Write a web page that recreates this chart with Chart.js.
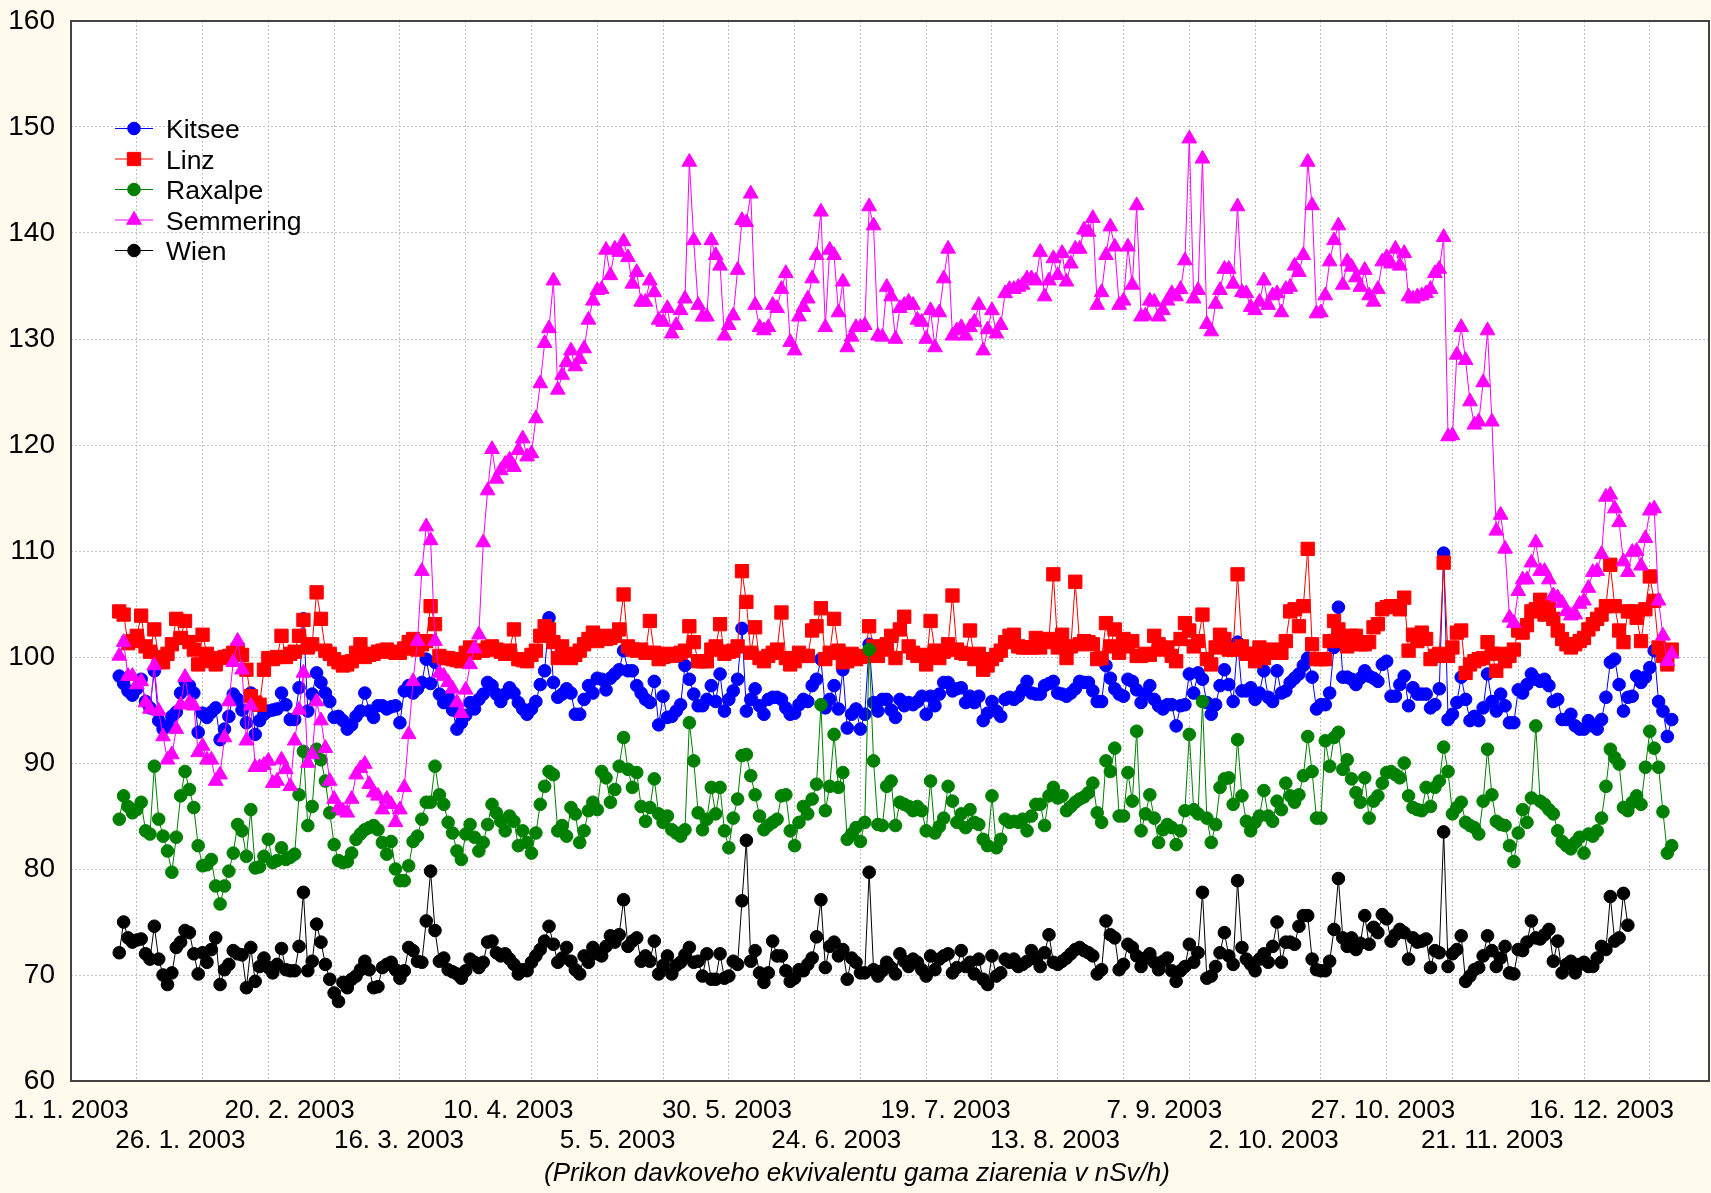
<!DOCTYPE html>
<html><head><meta charset="utf-8">
<script src="https://cdn.jsdelivr.net/npm/chart.js@4.4.1/dist/chart.umd.min.js"></script>
<style>
html,body{margin:0;padding:0;background:#FFFAEE;}
canvas{display:block;}
</style></head><body>
<canvas id="c" width="1711" height="1193"></canvas>
<script>
// first day of data (days after 1. 1. 2003), one value per day
const startDay = 11;

const kitsee = [98.2,97.5,96.8,96.4,97.0,97.9,95.8,95.2,98.7,94.0,
93.2,93.5,94.4,94.8,96.6,97.7,97.3,96.6,92.9,94.7,
94.3,94.8,95.2,92.2,93.2,94.4,96.5,96.0,95.0,93.8,
96.6,92.7,94.0,94.6,94.9,95.0,95.1,96.6,95.5,94.1,
94.1,97.1,103.6,94.9,96.5,98.5,97.6,96.6,95.8,94.3,
94.4,94.0,93.2,93.6,94.4,94.9,96.6,94.9,94.3,95.4,
95.4,95.1,95.3,95.4,93.8,96.8,97.3,96.6,97.0,97.6,
99.8,97.5,99.5,96.5,95.7,96.2,95.0,93.2,93.8,94.5,
95.7,95.1,96.0,96.5,97.6,97.3,96.5,95.8,96.5,97.1,
96.6,95.7,95.1,94.6,95.1,95.8,97.4,98.7,103.7,97.6,
96.2,96.5,97.0,96.6,94.6,94.6,96.0,97.3,96.6,98.0,
97.9,96.9,98.0,98.4,98.8,100.6,98.7,98.7,97.3,96.6,
96.0,95.7,97.7,93.6,96.3,94.3,94.4,94.9,95.5,99.2,
97.9,96.5,95.4,95.4,96.0,97.3,95.8,98.4,94.9,96.0,
96.8,97.9,102.7,94.9,96.0,97.0,95.4,94.6,96.0,96.2,
96.2,96.0,95.2,94.6,94.7,95.5,96.0,95.8,97.3,97.9,
99.8,95.2,96.0,97.3,95.1,98.8,93.3,94.6,95.1,93.2,
94.6,101.2,95.7,94.9,96.0,96.0,95.0,94.3,96.0,95.4,
95.7,95.5,95.8,96.3,94.6,96.3,95.4,96.5,97.6,97.6,
96.8,97.0,97.1,95.7,96.3,95.7,96.3,94.0,94.7,95.8,
94.9,94.4,96.0,96.2,96.0,96.3,96.9,97.7,96.6,96.5,
96.5,97.3,97.5,97.7,96.6,96.5,96.3,96.6,97.0,97.7,
97.6,97.6,96.8,95.8,95.8,99.2,98.0,97.0,96.5,96.3,
97.9,97.7,96.9,95.7,96.5,97.3,96.0,95.4,95.1,95.5,
95.5,93.5,95.4,95.5,98.4,96.6,98.5,97.9,95.7,94.6,
95.5,97.3,98.8,97.4,95.8,101.4,96.8,96.8,97.1,96.0,
96.6,98.7,96.2,95.8,98.7,96.6,96.8,97.6,98.0,98.4,
99.2,99.9,98.1,95.1,95.5,95.5,96.6,100.9,104.7,98.1,
98.1,97.9,97.4,98.0,98.7,98.2,98.0,97.7,99.3,99.6,
96.3,96.3,97.4,98.2,95.4,97.1,96.5,96.5,96.5,95.2,
95.5,97.0,109.8,94.1,94.6,95.7,98.1,96.0,94.0,94.4,
94.0,95.2,98.4,95.8,94.9,96.5,95.4,93.8,93.8,96.9,
96.6,97.4,98.4,97.9,97.7,97.9,97.3,95.8,96.0,94.1,
94.1,94.6,93.5,93.2,93.2,94.0,93.5,93.2,94.1,96.2,
99.5,99.8,97.4,94.9,96.2,96.3,98.2,97.6,98.1,99.0,
100.6,95.8,94.9,92.5,94.1];

const linz = [104.3,104.0,101.3,101.5,102.0,103.9,101.0,100.5,102.6,100.0,
99.5,100.3,101.2,103.6,101.8,103.4,101.4,100.7,99.3,102.1,
100.3,99.6,99.3,99.9,100.0,100.1,100.4,100.7,100.2,98.8,
96.3,95.7,95.5,98.8,99.9,99.8,100.0,102.0,100.0,100.3,
100.5,102.0,103.5,100.9,101.2,106.1,103.6,100.6,100.3,99.8,
99.5,99.2,99.3,99.6,100.4,101.2,100.0,100.2,100.3,100.5,
100.6,100.7,100.5,100.4,100.4,100.8,101.4,101.7,100.7,101.2,
101.5,104.8,103.1,100.1,99.9,99.9,99.8,99.7,99.6,100.4,
100.9,100.4,100.6,100.6,100.9,101.0,100.7,100.5,100.3,100.6,
102.6,99.8,99.7,99.6,100.2,100.6,102.0,102.9,102.6,101.4,
99.9,101.0,100.3,99.9,100.2,100.6,101.2,101.7,102.3,101.5,
102.0,101.7,101.8,102.0,102.6,105.9,101.0,100.7,100.6,100.7,
100.4,103.4,100.4,99.8,100.0,100.3,100.1,100.2,100.4,100.6,
102.9,101.4,99.6,99.6,99.6,100.7,101.0,103.1,100.3,100.5,
100.6,101.0,108.1,105.2,100.4,102.8,99.9,99.6,100.1,100.4,
100.7,104.2,99.9,99.3,99.6,100.4,100.1,100.1,102.5,102.9,
104.6,99.8,100.4,103.6,100.6,99.5,99.6,100.3,99.8,100.0,
100.1,102.9,101.0,100.1,100.7,101.2,102.0,99.9,102.6,103.8,
101.0,100.4,100.1,100.2,99.3,103.4,100.6,99.9,100.5,101.2,
105.8,100.7,100.4,100.3,102.5,99.8,100.3,98.8,99.2,99.8,
100.2,100.6,101.4,102.0,102.1,101.0,100.9,100.9,100.9,101.8,
100.9,101.4,101.7,107.8,100.9,102.1,99.9,101.0,107.1,101.2,
101.5,101.4,101.2,99.8,99.9,103.2,101.0,102.6,100.4,101.7,
101.0,101.5,100.1,100.1,100.3,100.2,102.0,101.2,100.7,100.9,
100.1,99.6,101.7,103.2,102.5,101.0,101.5,104.0,99.8,99.3,
100.9,102.1,101.7,100.7,100.7,107.8,101.0,100.3,100.3,99.6,
100.9,99.9,100.4,100.7,100.4,100.4,101.5,104.3,104.5,102.9,
104.8,110.2,101.2,99.8,99.8,99.8,101.5,103.4,102.6,101.5,
101.0,102.0,102.0,101.2,101.2,101.4,102.8,103.1,104.5,104.7,
104.8,104.8,104.5,105.6,100.6,102.1,101.5,102.3,101.7,99.8,
100.1,100.3,108.9,100.1,100.9,102.3,102.5,98.5,99.3,99.6,
99.8,99.9,101.4,100.3,98.7,100.3,99.6,100.1,100.7,102.5,
102.3,103.0,104.3,104.5,105.4,104.0,104.7,103.6,102.5,101.7,
101.2,100.9,101.2,101.5,101.8,102.6,103.1,103.6,104.0,104.8,
108.7,104.8,102.5,101.4,104.3,104.3,103.7,101.5,104.5,107.6,
105.3,100.9,100.1,99.3,100.7];

const raxalpe = [84.7,86.9,85.9,85.3,85.6,86.3,83.6,83.3,89.7,84.7,
83.1,81.7,79.7,83.0,86.9,89.2,87.5,85.8,82.2,80.3,
80.4,80.9,78.4,76.7,78.4,79.8,81.5,84.2,83.6,81.2,
85.6,80.1,80.2,81.2,82.8,80.6,80.8,82.0,80.9,81.1,
81.4,87.0,91.1,84.1,85.9,91.3,90.3,88.3,85.3,82.3,
80.8,80.6,80.7,81.5,82.8,83.3,83.7,83.9,84.1,83.7,
82.5,81.4,82.6,80.0,78.9,78.9,80.3,82.6,83.1,84.7,
86.3,86.3,89.7,87.0,86.1,84.4,83.4,81.7,80.9,83.3,
84.2,83.0,81.7,82.5,84.2,86.1,85.3,84.5,83.6,85.0,
84.5,82.2,83.6,82.5,81.5,83.4,86.1,87.8,89.2,88.9,
83.6,84.1,83.1,85.8,85.2,82.5,83.6,85.5,86.3,85.6,
89.2,88.6,86.3,87.5,89.7,92.4,89.4,87.7,89.1,85.9,
84.5,85.8,88.5,85.2,84.4,85.0,83.7,83.4,83.1,83.7,
93.8,90.2,85.3,83.7,84.7,87.7,85.2,87.7,83.6,82.0,
84.8,86.6,90.7,90.8,88.8,87.0,85.0,83.7,84.1,84.4,
84.7,86.9,87.0,83.6,82.2,84.4,85.9,85.2,86.6,88.0,
95.5,85.5,87.8,92.7,87.7,89.1,82.8,83.3,83.9,82.6,
84.4,100.7,90.2,84.2,84.1,87.8,88.3,84.1,86.3,86.1,
85.9,85.5,85.9,85.5,83.6,88.3,83.4,84.0,84.8,87.8,
86.4,84.4,85.2,83.9,85.6,84.4,84.2,82.8,82.2,86.9,
82.0,82.8,84.7,84.4,84.5,84.4,84.7,83.6,85.0,86.1,
86.1,84.1,86.9,87.7,86.7,86.9,85.5,85.9,86.3,86.6,
86.8,87.2,88.1,85.3,84.4,90.2,89.2,91.4,85.0,85.0,
89.1,86.4,93.0,83.6,85.2,87.0,84.8,82.5,83.7,84.2,
83.9,82.3,83.6,85.5,92.7,85.6,85.2,95.8,84.8,82.5,
84.2,87.7,88.5,88.6,86.1,92.2,86.9,84.5,83.6,84.4,
85.0,87.4,85.0,84.5,86.4,85.6,88.1,86.9,86.3,87.0,
88.8,92.5,89.2,84.8,84.8,92.1,89.7,92.4,92.9,89.4,
90.3,88.5,87.2,86.3,88.6,84.8,86.4,86.9,88.1,89.1,
89.2,88.9,88.6,90.0,86.9,85.8,85.6,85.5,87.7,85.9,
87.7,88.3,91.5,89.2,85.2,85.8,86.3,84.4,84.1,83.9,
83.3,86.4,91.3,87.0,84.5,84.2,84.1,82.2,80.7,83.4,
85.6,84.4,86.7,93.5,86.4,86.1,85.6,85.2,83.6,82.6,
82.2,81.9,82.5,83.0,81.5,83.3,83.1,83.6,84.8,87.8,
91.3,90.5,89.9,85.8,85.5,86.3,86.9,86.1,89.6,93.0,
91.4,89.6,85.4,81.5,82.2];

const semmering = [100.1,101.4,98.2,98.2,97.4,97.7,95.7,95.1,99.2,94.9,
92.5,90.3,90.8,93.2,95.5,98.1,95.7,95.4,91.0,91.6,
90.3,90.3,88.3,88.9,92.4,95.8,99.5,101.5,98.8,92.1,
95.4,89.6,89.6,89.8,90.2,88.1,88.3,90.3,89.4,87.8,
92.1,95.0,98.5,90.0,90.8,95.8,94.0,91.4,88.3,86.6,
85.8,85.5,85.3,86.6,88.9,89.5,89.9,88.0,87.2,86.9,
85.6,86.6,86.1,84.4,85.6,87.7,92.7,97.7,101.5,108.1,
112.3,111.0,101.5,98.5,98.2,97.6,97.0,95.7,94.7,96.9,
99.3,100.8,102.1,110.8,115.7,119.6,116.8,117.6,118.2,118.6,
117.9,119.5,120.6,118.9,119.2,122.5,125.8,129.6,131.0,135.5,
125.2,126.6,127.8,128.9,127.4,128.1,129.1,131.8,133.6,134.6,
134.7,138.4,136.0,138.5,138.2,139.2,137.7,135.2,136.3,133.5,
133.5,135.5,134.4,131.8,131.6,132.9,130.5,131.3,132.7,133.8,
146.7,139.3,133.2,132.1,132.1,139.3,137.9,136.9,130.3,131.3,
132.2,136.5,141.2,141.0,143.7,133.2,131.1,130.8,131.1,133.2,
132.9,134.7,136.2,129.7,128.9,132.1,133.0,133.8,135.7,137.9,
142.0,131.1,138.4,137.9,132.5,135.4,129.2,130.2,131.1,131.1,
131.3,142.5,140.7,130.3,130.2,134.9,134.0,130.0,132.9,133.2,
133.5,133.2,131.8,131.6,130.0,132.7,129.2,132.5,135.7,138.5,
130.3,130.8,131.1,130.3,131.1,131.6,133.2,128.9,130.9,132.7,
130.5,131.3,134.3,134.7,134.7,134.9,135.1,135.7,135.7,135.5,
138.2,134.0,135.5,137.6,136.0,138.1,135.4,137.1,138.5,138.5,
140.3,140.1,141.4,133.2,134.4,137.9,140.6,138.7,133.2,133.6,
138.7,135.1,142.6,132.1,132.2,133.6,133.5,132.1,132.7,133.6,
134.3,134.0,134.7,137.4,148.9,133.8,134.6,147.0,131.4,130.7,
133.3,134.6,136.6,136.6,135.2,142.5,134.4,134.3,133.0,132.7,
133.5,135.5,133.2,134.1,134.3,132.5,134.7,134.9,136.9,136.3,
137.9,146.7,142.6,132.4,132.5,134.1,137.3,139.3,140.7,135.1,
137.3,136.8,135.8,134.9,136.5,134.1,133.5,134.7,137.3,137.7,
137.1,138.5,136.9,138.1,134.0,133.8,134.0,134.1,134.3,134.7,
136.2,136.6,139.6,120.8,120.9,128.5,131.1,128.0,124.1,121.9,
122.2,125.9,130.8,122.2,111.9,113.4,110.2,103.7,103.2,106.2,
107.3,107.3,108.9,110.8,108.1,108.1,107.3,105.8,105.6,105.1,
104.3,103.9,104.0,105.0,105.3,106.5,108.0,108.1,109.7,115.1,
115.3,114.0,112.7,109.0,108.0,109.9,110.0,108.6,111.2,113.8,
114.0,105.3,102.0,99.6,100.3];

const wien = [72.1,75.0,73.5,73.1,73.3,73.4,72.0,71.5,74.6,71.5,
70.0,69.1,70.2,72.6,73.1,74.2,74.0,72.0,70.1,72.1,
71.2,72.4,73.5,69.1,70.5,71.0,72.3,72.0,71.9,68.8,
72.6,69.4,70.8,71.6,70.7,70.2,71.0,72.5,70.5,70.4,
70.4,72.7,77.8,70.4,71.3,74.8,73.1,71.0,69.6,68.3,
67.5,69.3,68.8,69.6,69.9,70.5,71.3,70.5,68.8,68.9,
70.7,71.0,71.2,70.5,69.7,70.4,72.6,72.3,71.3,71.2,
75.1,79.8,74.2,71.3,71.6,70.5,70.3,70.1,69.7,70.4,
71.5,71.2,70.7,71.2,73.1,73.2,72.1,71.8,72.0,71.5,
71.0,70.1,70.5,70.4,71.2,71.8,72.4,73.2,74.6,72.9,
71.2,71.6,72.6,71.3,70.5,70.1,71.8,71.2,72.6,72.0,
71.8,72.7,73.7,73.1,73.8,77.1,72.7,73.2,73.5,71.3,
71.8,71.3,73.2,70.1,70.9,71.8,70.1,70.9,71.2,71.9,
72.6,71.2,71.3,69.9,72.0,69.6,69.6,72.0,69.7,69.9,
71.3,71.0,77.0,82.7,71.3,72.3,70.2,69.3,70.2,73.2,
71.8,71.8,70.4,69.4,69.7,70.5,70.4,71.0,71.6,73.6,
77.1,70.7,72.7,73.1,71.8,72.4,69.6,71.6,71.2,70.2,
70.2,79.7,70.5,69.9,70.4,71.2,70.7,70.1,72.0,71.3,
70.8,71.5,71.2,70.5,69.9,71.8,70.5,71.5,71.8,72.0,
70.2,70.7,72.3,70.8,71.2,70.1,71.5,69.6,69.1,71.8,
69.9,70.2,71.5,71.2,71.5,70.8,71.0,71.3,72.3,71.5,
70.8,72.1,73.8,71.2,71.0,71.3,71.6,72.0,72.4,72.6,
72.3,72.1,71.8,70.1,70.5,75.1,73.8,73.5,70.5,71.0,
72.9,72.6,71.8,70.8,71.6,72.0,71.2,70.5,71.3,71.6,
70.4,69.4,70.4,70.8,72.9,71.2,72.1,77.8,69.7,69.9,
70.8,72.1,74.0,71.8,71.0,78.9,72.6,71.5,71.0,70.4,
71.5,72.0,71.2,72.7,75.0,71.2,73.1,73.1,72.9,74.6,
75.6,75.6,71.5,70.5,70.4,70.4,71.3,74.3,79.1,73.5,
72.7,73.5,72.4,73.0,75.6,72.9,74.5,74.0,75.7,75.3,
73.2,73.8,74.3,74.0,71.5,73.5,73.1,73.2,73.4,70.7,
72.3,72.1,83.5,70.8,72.0,72.4,73.7,69.4,69.9,70.5,
70.7,71.8,73.7,72.3,70.8,71.6,72.7,70.2,70.1,72.4,
72.3,73.1,75.1,73.5,73.4,73.8,74.3,71.3,73.2,70.2,
71.0,71.3,70.2,71.0,71.2,70.8,70.8,71.6,72.7,72.4,
77.4,73.2,73.5,77.7,74.7];

const seriesNames = ["Kitsee", "Linz", "Raxalpe", "Semmering", "Wien"];
const tickDays = [0, 24.93, 49.86, 74.79, 99.71, 124.64, 149.57, 174.5, 199.43, 224.36, 249.29, 274.21, 299.14, 324.07, 349];
const tickLabels = ["1. 1. 2003", "26. 1. 2003", "20. 2. 2003", "16. 3. 2003", "10. 4. 2003", "5. 5. 2003", "30. 5. 2003", "24. 6. 2003", "19. 7. 2003", "13. 8. 2003", "7. 9. 2003", "2. 10. 2003", "27. 10. 2003", "21. 11. 2003", "16. 12. 2003"];
const gridDays = [15, 30, 45, 60, 75, 90, 105, 120, 135, 150, 165, 180, 195, 210, 225, 240, 255, 270, 285, 300, 315, 330, 345, 360];
const yTicks = [60, 70, 80, 90, 100, 110, 120, 130, 140, 150, 160];
const xTitle = "(Prikon davkoveho ekvivalentu gama ziarenia v nSv/h)";

const FONT = '"Liberation Sans", Arial, Helvetica, sans-serif';
Chart.defaults.font.family = FONT;
Chart.defaults.font.size = 26;
Chart.defaults.color = '#000';

function toPoints(arr) { return arr.map((v, i) => ({ x: startDay + i, y: v })); }

const looks = [
  { c: '#0000FF', style: 'circle', r: 6.3 },
  { c: '#FF0000', style: 'rect', r: 9.4 },
  { c: '#008000', style: 'circle', r: 6.3 },
  { c: '#FF00FF', style: 'triangle', r: 8.5 },
  { c: '#000000', style: 'circle', r: 6.3 }
];
const allSeries = [kitsee, linz, raxalpe, semmering, wien];

const datasets = allSeries.map((arr, i) => ({
  label: seriesNames[i],
  data: toPoints(arr),
  xAxisID: 'x', yAxisID: 'y',
  borderColor: looks[i].c,
  borderWidth: 1,
  backgroundColor: looks[i].c,
  pointBackgroundColor: looks[i].c,
  pointBorderColor: looks[i].c,
  pointBorderWidth: 1,
  pointStyle: looks[i].style,
  pointRadius: looks[i].r,
  tension: 0,
  fill: false,
  order: 5 - i
}));

const bgPlugin = {
  id: 'bg',
  beforeDraw(chart) {
    const ctx = chart.ctx, ca = chart.chartArea;
    ctx.save();
    ctx.fillStyle = '#FFFAEE';
    ctx.fillRect(0, 0, chart.width, chart.height);
    ctx.fillStyle = '#FFFFFF';
    ctx.fillRect(ca.left, ca.top, ca.right - ca.left, ca.bottom - ca.top);
    ctx.restore();
  }
};

const legendPlugin = {
  id: 'insideLegend',
  afterDatasetsDraw(chart) {
    const ctx = chart.ctx, ca = chart.chartArea;
    ctx.save();
    chart.data.datasets.forEach((ds, i) => {
      const y = ca.top + 107.5 + i * 30.5;
      const x0 = ca.left + 44, x1 = ca.left + 82, xm = (x0 + x1) / 2;
      ctx.strokeStyle = ds.borderColor; ctx.lineWidth = 1.2;
      ctx.beginPath(); ctx.moveTo(x0, y); ctx.lineTo(x1, y); ctx.stroke();
      ctx.fillStyle = ds.pointBackgroundColor; ctx.strokeStyle = ds.pointBorderColor; ctx.lineWidth = 1;
      Chart.helpers.drawPoint(ctx, { pointStyle: ds.pointStyle, radius: ds.pointRadius, rotation: 0, borderWidth: 1 }, xm, y);
      ctx.fillStyle = '#000';
      ctx.font = '26.5px ' + FONT;
      ctx.textAlign = 'left'; ctx.textBaseline = 'alphabetic';
      ctx.fillText(ds.label, ca.left + 95, y + 9.5);
    });
    ctx.restore();
  }
};

const framePlugin = {
  id: 'frame',
  afterDraw(chart) {
    const ctx = chart.ctx, ca = chart.chartArea;
    ctx.save();
    ctx.strokeStyle = '#444444'; ctx.lineWidth = 2;
    ctx.strokeRect(ca.left, ca.top, ca.right - ca.left, ca.bottom - ca.top);
    ctx.fillStyle = '#000';
    ctx.font = 'italic 26px ' + FONT;
    ctx.textAlign = 'center'; ctx.textBaseline = 'alphabetic';
    ctx.fillText(xTitle, 857, 1181);
    ctx.restore();
  }
};

new Chart(document.getElementById('c'), {
  type: 'line',
  data: { datasets },
  options: {
    responsive: false,
    animation: false,
    devicePixelRatio: 1,
    layout: { autoPadding: false, padding: { top: 21, right: 2, left: 0, bottom: 0 } },
    plugins: { legend: { display: false }, tooltip: { enabled: false }, title: { display: false } },
    scales: {
      x: {
        type: 'linear', position: 'bottom', min: 0, max: 373.5,
        afterBuildTicks: a => { a.ticks = tickDays.map(v => ({ value: v })); },
        afterFit: a => { a.height = 112; a.paddingLeft = 0; a.paddingRight = 0; },
        grid: { display: false, drawTicks: false },
        border: { display: false },
        ticks: {
          autoSkip: false, maxRotation: 0, minRotation: 0, padding: 15, color: '#000',
          font: { size: 26, lineHeight: 1.15 },
          callback: (v, i) => (i % 2 === 0 ? [tickLabels[i], ''] : ['', tickLabels[i]])
        }
      },
      xg: {
        type: 'linear', position: 'top', min: 0, max: 373.5,
        afterBuildTicks: a => { a.ticks = gridDays.map(v => ({ value: v })); },
        afterFit: a => { a.height = 0; a.paddingLeft = 0; a.paddingRight = 0; },
        grid: { color: '#c2c2c2', lineWidth: 1, drawTicks: false },
        border: { display: false, dash: [2, 2] },
        ticks: { display: false }
      },
      y: {
        type: 'linear', min: 60, max: 160,
        afterBuildTicks: a => { a.ticks = yTicks.map(v => ({ value: v })); },
        afterFit: a => { a.width = 71; a.paddingTop = 0; a.paddingBottom = 0; },
        grid: { color: '#c2c2c2', lineWidth: 1, drawTicks: false },
        border: { display: false, dash: [2, 2] },
        ticks: { padding: 16, color: '#000', font: { size: 28 } }
      }
    }
  },
  plugins: [bgPlugin, legendPlugin, framePlugin]
});
</script>
</body></html>
